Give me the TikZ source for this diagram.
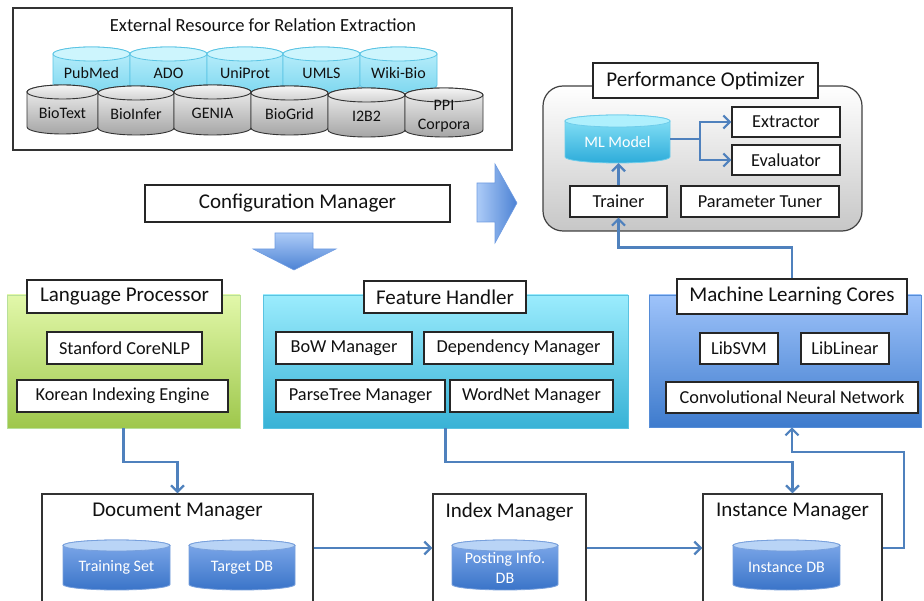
\documentclass[tikz,border=0pt]{standalone}
\usepackage{fontspec}
\setmainfont{Carlito}
\usetikzlibrary{arrows.meta}
\definecolor{lineblue}{HTML}{4F81BD}
\definecolor{txt}{HTML}{111111}
\newcommand\bx[7]{%
 \pgfmathsetmacro\bxw{#5-#3}\pgfmathsetmacro\bxh{#6-#4}%
 \pgfmathsetmacro\bxcx{(#3+#5)/2}\pgfmathsetmacro\bxcy{(#4+#6)/2}%
 \node[#1, minimum width=\bxw pt, minimum height=\bxh pt] (#2) at (\bxcx,\bxcy) {#7};}
\def\cylry{7}
\newcommand\cyl[8]{%
 \pgfmathsetmacro\crx{(#6-#4)/2}\pgfmathsetmacro\cw{#6-#4}%
 \pgfmathsetmacro\ccx{(#4+#6)/2}%
 \pgfmathsetmacro\ctop{#5+\cylry}\pgfmathsetmacro\cbot{#7-\cylry}%
 \pgfmathsetmacro\ccy{(#5+#7)/2}\pgfmathsetmacro\cty{(#5+\cylry+#7)/2}%
 \pgfmathsetmacro\ch{#7-#5}%
 \path[#1] (#4,\ctop) -- (#4,\cbot) arc[start angle=180,end angle=360,x radius=\crx pt,y radius=\cylry pt] -- (#6,\ctop) arc[start angle=0,end angle=180,x radius=\crx pt,y radius=\cylry pt] -- cycle;
 \path[#2] (\ccx,\ctop) ellipse[x radius=\crx pt, y radius=\cylry pt];
 \node[inner sep=0pt, minimum width=\cw pt, minimum height=\ch pt] (#3) at (\ccx,\ccy) {};
 \node[cyltext] (#3-t) at (\ccx,\cty) {#8};}
\tikzset{
 base/.style={inner sep=0pt, text=txt},
 sbox/.style={base, draw=black!85, fill=white, line width=1.1pt, font=\fontsize{18.3}{21}\selectfont},
 tbox/.style={base, draw=black!85, fill=white, line width=1.1pt, font=\fontsize{21}{24}\selectfont},
 lbl/.style={base, font=\fontsize{21}{24}\selectfont},
 cyltext/.style={base, align=center, font=\fontsize{16}{19.5}\selectfont},
 wtext/.style={cyltext, text=white},
 extbox/.style={base, draw=black!80, fill=white, line width=1.3pt},
 optbox/.style={base, draw=black!75, line width=1.2pt, rounded corners=20pt, top color=white, bottom color=black!22},
 lppanel/.style={base, draw=green!40!olive!40, line width=0.6pt, top color={rgb,255:red,226;green,248;blue,170}, bottom color={rgb,255:red,158;green,199;blue,76}},
 fhpanel/.style={base, draw={rgb,255:red,90;green,195;blue,225}, line width=0.6pt, top color={rgb,255:red,155;green,236;blue,253}, bottom color={rgb,255:red,56;green,178;blue,214}},
 mlpanel/.style={base, draw={rgb,255:red,85;green,140;blue,215}, line width=0.6pt, top color={rgb,255:red,158;green,195;blue,250}, bottom color={rgb,255:red,62;green,123;blue,205}},
 cyanbody/.style={draw={rgb,255:red,90;green,196;blue,228}, line width=0.8pt, top color={rgb,255:red,190;green,240;blue,252}, bottom color={rgb,255:red,128;green,216;blue,240}},
 cyantop/.style={draw={rgb,255:red,90;green,196;blue,228}, line width=0.8pt, fill={rgb,255:red,205;green,245;blue,253}},
 graybody/.style={draw=black!80, line width=0.9pt, top color=black!5, bottom color=black!35},
 graytop/.style={draw=black!80, line width=0.9pt, top color=black!4, bottom color=black!18},
 mlbody/.style={draw={rgb,255:red,110;green,205;blue,235}, line width=0.8pt, top color={rgb,255:red,140;green,228;blue,248}, bottom color={rgb,255:red,45;green,172;blue,218}},
 mltop/.style={draw={rgb,255:red,110;green,205;blue,235}, line width=0.8pt, fill={rgb,255:red,175;green,240;blue,253}},
 dbbody/.style={draw={rgb,255:red,120;green,160;blue,220}, line width=0.8pt, top color={rgb,255:red,128;green,170;blue,235}, bottom color={rgb,255:red,58;green,116;blue,200}},
 dbtop/.style={draw={rgb,255:red,120;green,160;blue,220}, line width=0.8pt, fill={rgb,255:red,185;green,212;blue,246}},
 blockarrow/.style={draw={rgb,255:red,110;green,155;blue,225}, line width=0.6pt},
 conn/.style={draw=lineblue, line width=2.4pt, -{Straight Barb[length=6.5pt,width=13pt,line width=2.2pt]}}
}
\begin{document}
\begin{tikzpicture}[x=1pt,y=-1pt]
\useasboundingbox (0,0) rectangle (924,601);
\clip (0,0) rectangle (924,601);
% external resources
\bx{extbox}{extres}{13}{8}{512}{150}{}
\node[base, font=\fontsize{18.5}{21}\selectfont] (extt) at (263,25) {External Resource for Relation Extraction};
\cyl{cyanbody}{cyantop}{pubmed}{53}{47}{130}{92}{PubMed}
\cyl{cyanbody}{cyantop}{ado}{130}{47}{207}{92}{ADO}
\cyl{cyanbody}{cyantop}{uniprot}{207}{47}{283}{92}{UniProt}
\cyl{cyanbody}{cyantop}{umls}{283}{47}{360}{92}{UMLS}
\cyl{cyanbody}{cyantop}{wikibio}{360}{47}{437}{92}{Wiki-Bio}
\cyl{graybody}{graytop}{biotext}{27}{85}{98}{134}{BioText}
\cyl{graybody}{graytop}{bioinfer}{98}{86}{174}{135}{BioInfer}
\cyl{graybody}{graytop}{genia}{174}{85}{251}{135}{GENIA}
\cyl{graybody}{graytop}{biogrid}{251}{86}{328}{135}{BioGrid}
\cyl{graybody}{graytop}{ibb}{328}{88}{405}{137}{I2B2}
\cyl{graybody}{graytop}{ppi}{405}{88}{483}{137}{PPI\\Corpora}
% performance optimizer
\bx{optbox}{po}{543}{86}{862}{231}{}
\bx{tbox}{pot}{593}{63}{818}{98}{Performance Optimizer}
\def\cylry{6}
\cyl{mlbody}{mltop}{mlm}{565}{115}{670}{163}{}
\node[wtext] (mlmlabel) at (mlm-t) {ML Model};
\bx{sbox}{xtr}{732}{107}{840}{137}{Extractor}
\bx{sbox}{eva}{732}{145}{840}{175}{Evaluator}
\bx{sbox}{trn}{570}{186}{667}{217}{Trainer}
\bx{sbox}{ptu}{681}{186}{839}{217}{Parameter Tuner}
% configuration manager and block arrows
\bx{tbox}{cfg}{145}{185}{450}{222}{Configuration Manager}
\path[blockarrow, top color={rgb,255:red,172;green,203;blue,247}, bottom color={rgb,255:red,76;green,130;blue,212}]
 (275,233) -- (313,233) -- (313,249) -- (336,249) -- (294,270) -- (253,249) -- (275,249) -- cycle;
\path[blockarrow, left color={rgb,255:red,172;green,203;blue,247}, right color={rgb,255:red,76;green,130;blue,212}]
 (477,183) -- (495,183) -- (495,164) -- (517,203) -- (495,243) -- (495,222) -- (477,222) -- cycle;
% panels
\bx{lppanel}{lp}{7}{295}{240}{428}{}
\bx{tbox}{lpt}{27}{280}{222}{313}{Language Processor}
\bx{sbox}{scn}{47}{332}{202}{364}{Stanford CoreNLP}
\bx{sbox}{kie}{17}{380}{228}{412}{Korean Indexing Engine}
\bx{fhpanel}{fh}{263}{295}{628}{428}{}
\bx{tbox}{fht}{364}{281}{526}{313}{Feature Handler}
\bx{sbox}{bow}{276}{332}{412}{364}{BoW Manager}
\bx{sbox}{dep}{424}{332}{613}{364}{Dependency Manager}
\bx{sbox}{ptm}{276}{380}{445}{412}{ParseTree Manager}
\bx{sbox}{wnm}{450}{380}{613}{412}{WordNet Manager}
\bx{mlpanel}{mlc}{649}{295}{921}{427}{}
\bx{tbox}{mlct}{677}{279}{907}{314}{Machine Learning Cores}
\bx{sbox}{svm}{700}{333}{778}{364}{LibSVM}
\bx{sbox}{lin}{801}{333}{889}{364}{LibLinear}
\bx{sbox}{cnn}{666}{382}{918}{413}{Convolutional Neural Network}
% managers
\bx{extbox}{dm}{42}{494}{313}{602}{}
\node[lbl] (dmt) at (177.5,512) {Document Manager};
\def\cylry{5.5}
\cyl{dbbody}{dbtop}{trs}{63}{540}{170}{590}{}
\node[wtext] (trslabel) at (trs-t) {Training Set};
\cyl{dbbody}{dbtop}{tdb}{189}{540}{295}{590}{}
\node[wtext] (tdblabel) at (tdb-t) {Target DB};
\bx{extbox}{idx}{433}{494}{586}{602}{}
\node[lbl] (idxt) at (509.5,512) {Index Manager};
\cyl{dbbody}{dbtop}{pdb}{452}{540}{558}{590}{}
\node[wtext] (pdblabel) at (pdb-t) {Posting Info.\\DB};
\bx{extbox}{im}{703}{494}{882}{602}{}
\node[lbl] (imt) at (792.5,512) {Instance Manager};
\cyl{dbbody}{dbtop}{idb}{733}{540}{840}{590}{}
\node[wtext] (idblabel) at (idb-t) {Instance DB};
% connectors
\draw[conn] (trn.north) -- (trn.north |- mlm.south);
\draw[conn] (mlm.east) -- ++(30,0) coordinate (split) |- (xtr.west);
\draw[conn] (split) |- (eva.west);
\draw[conn] (mlct.north) -- ++(0,-31) -| (trn.south);
\draw[conn] (lp.south) -- ++(0,34) -| (dm.north);
\draw[conn] (fh.south) -- ++(0,34) -| (im.north);
\coordinate (loopc) at (904,452);
\draw[conn] (im.east) -| (loopc) -| (mlct.north |- mlc.south);
\draw[conn] (dm.east) -- (idx.west);
\draw[conn] (idx.east) -- (im.west);
\end{tikzpicture}
\end{document}
